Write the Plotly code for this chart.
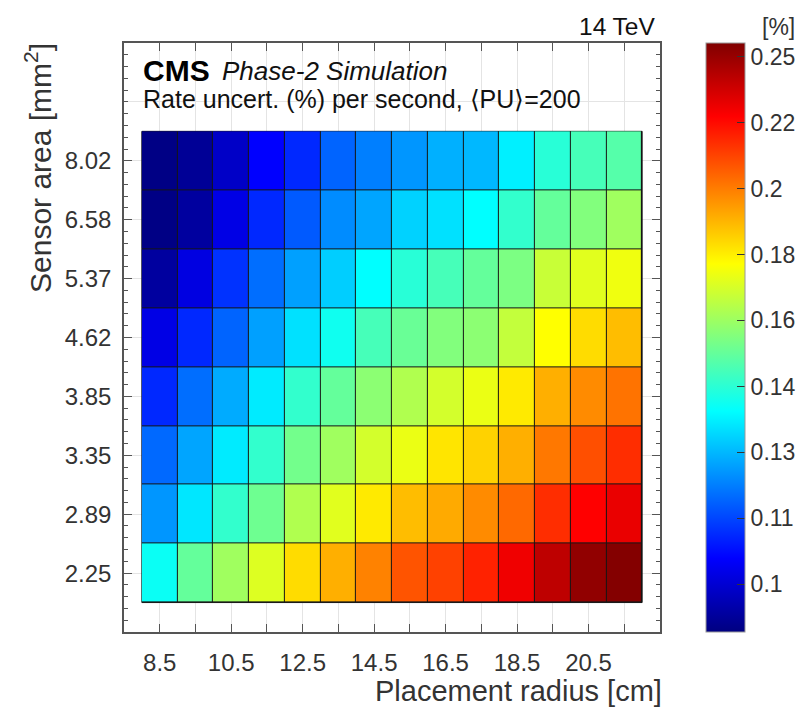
import numpy as np
import plotly.graph_objects as go

# ---------------- data ----------------
radius_cm = [8.5, 9.5, 10.5, 11.5, 12.5, 13.5, 14.5, 15.5, 16.5, 17.5, 18.5, 19.5, 20.5, 21.5]
radius_tick_text = ["8.5", "", "10.5", "", "12.5", "", "14.5", "", "16.5", "", "18.5", "", "20.5", ""]
area_labels = ["2.25", "2.89", "3.35", "3.85", "4.62", "5.37", "6.58", "8.02"]

rate_2p25 = [0.1364, 0.1493, 0.1586, 0.1685, 0.1806, 0.1890, 0.1977, 0.2070, 0.2111, 0.2176, 0.2288, 0.2406, 0.2516, 0.2550]
rate_2p89 = [0.1215, 0.1318, 0.1420, 0.1508, 0.1611, 0.1693, 0.1781, 0.1863, 0.1899, 0.1959, 0.2028, 0.2154, 0.2253, 0.2300]
rate_3p35 = [0.1162, 0.1234, 0.1323, 0.1420, 0.1516, 0.1586, 0.1668, 0.1709, 0.1790, 0.1825, 0.1890, 0.1997, 0.2081, 0.2154]
rate_3p85 = [0.1088, 0.1168, 0.1241, 0.1323, 0.1420, 0.1493, 0.1554, 0.1611, 0.1668, 0.1709, 0.1781, 0.1890, 0.1959, 0.2007]
rate_4p62 = [0.1019, 0.1088, 0.1156, 0.1228, 0.1311, 0.1371, 0.1448, 0.1501, 0.1538, 0.1554, 0.1642, 0.1744, 0.1806, 0.1863]
rate_5p37 = [0.0949, 0.1014, 0.1099, 0.1168, 0.1228, 0.1285, 0.1351, 0.1406, 0.1448, 0.1493, 0.1530, 0.1651, 0.1693, 0.1718]
rate_6p58 = [0.0925, 0.0949, 0.1019, 0.1088, 0.1144, 0.1203, 0.1234, 0.1291, 0.1311, 0.1351, 0.1420, 0.1493, 0.1538, 0.1586]
rate_8p02 = [0.0925, 0.0941, 0.0988, 0.1046, 0.1088, 0.1156, 0.1188, 0.1215, 0.1247, 0.1258, 0.1330, 0.1406, 0.1448, 0.1470]

cbar_tick_vals = [0.1, 0.1121, 0.1257, 0.1409, 0.1581, 0.1772, 0.1988, 0.2229, 0.25]
cbar_tick_text = ["0.1", "0.11", "0.13", "0.14", "0.16", "0.18", "0.2", "0.22", "0.25"]
color_min, color_max = 0.092, 0.256

# ---------------- figure ----------------
rows = [rate_2p25, rate_2p89, rate_3p35, rate_3p85, rate_4p62, rate_5p37, rate_6p58, rate_8p02]
z_log = np.log10(np.array(rows))
y_idx = list(range(len(area_labels)))

jet = [[0.0, "rgb(0,0,128)"], [0.125, "rgb(0,0,255)"], [0.375, "rgb(0,255,255)"],
       [0.625, "rgb(255,255,0)"], [0.875, "rgb(255,0,0)"], [1.0, "rgb(128,0,0)"]]

FONT = "Liberation Sans, Arial, Helvetica, sans-serif"
TXT = "#333333"
AX = "#555555"

# page body adds an 8px margin: figure is shrunk and all positions shifted by it
OFF = 8
FIG_W, FIG_H = 812 - 2 * OFF, 717 - 2 * OFF
L, T, R, B = 124 - OFF, 43 - OFF, 660 - OFF, 632 - OFF
W = float(R - L)
H = float(B - T)

def py(px):          # reference-page pixel -> paper y
    return (B - (px - OFF)) / H
def pxx(px):         # reference-page pixel -> paper x
    return ((px - OFF) - L) / W

fig = go.Figure()
fig.add_trace(go.Heatmap(
    x=radius_cm, y=y_idx, z=z_log,
    zmin=np.log10(color_min), zmax=np.log10(color_max),
    colorscale=jet, xgap=1, ygap=1,
    colorbar=dict(
        x=pxx(706), xanchor="left", xpad=0, ypad=0,
        y=0.5, yanchor="middle", len=1, lenmode="fraction",
        thickness=39, outlinewidth=1, outlinecolor="#999999",
        ticks="inside", ticklen=8, tickcolor="#333333", tickwidth=1,
        tickvals=list(np.log10(cbar_tick_vals)), ticktext=cbar_tick_text,
        tickfont=dict(family=FONT, size=23, color=TXT),
    ),
    hoverinfo="skip",
))

# dark cell borders shown through the gaps
fig.add_shape(type="rect", xref="x", yref="y",
              x0=radius_cm[0] - 0.5, x1=radius_cm[-1] + 0.5,
              y0=y_idx[0] - 0.5, y1=y_idx[-1] + 0.5,
              fillcolor="#151515", line=dict(color="#151515", width=1), layer="between")

y_minor = list(np.round(np.arange(-1, 9.001, 0.2), 3))

fig.update_xaxes(
    range=[radius_cm[0] - 1, radius_cm[-1] + 1],
    tickvals=radius_cm, ticktext=radius_tick_text,
    ticks="inside", ticklen=8, tickcolor=AX, tickwidth=1,
    showline=True, linecolor=AX, linewidth=1.5, mirror="ticks",
    showgrid=True, gridcolor="#e4e4e4", gridwidth=1, zeroline=False,
    tickfont=dict(family=FONT, size=24, color=TXT),
    ticklabelstandoff=8,
)
fig.update_yaxes(
    range=[-1, 9],
    tickvals=list(range(9)), ticktext=area_labels + [""],
    ticks="inside", ticklen=8, tickcolor=AX, tickwidth=1,
    minor=dict(tickvals=y_minor, ticks="inside", ticklen=4, tickcolor=AX, showgrid=False),
    showline=True, linecolor=AX, linewidth=1.5, mirror="ticks",
    showgrid=True, gridcolor="#e4e4e4", gridwidth=1, zeroline=False,
    tickfont=dict(family=FONT, size=24, color=TXT),
    ticklabelstandoff=6,
)

annos = [
    dict(text="14 TeV", x=pxx(657), y=py(26.5), xanchor="right", yanchor="middle",
         font=dict(family=FONT, size=24.5, color="#111111")),
    dict(text="<b>CMS</b>", x=pxx(141), y=py(70.5), xanchor="left", yanchor="middle",
         font=dict(family=FONT, size=30, color="#000000")),
    dict(text="<i>Phase-2 Simulation</i>", x=pxx(220), y=py(70.5), xanchor="left", yanchor="middle",
         font=dict(family=FONT, size=26, color="#111111")),
    dict(text="Rate uncert. (%) per second, \u27e8PU\u27e9=200", x=pxx(141), y=py(99.5),
         xanchor="left", yanchor="middle",
         font=dict(family=FONT, size=25, color="#111111")),
    dict(text="Placement radius [cm]", x=pxx(664), y=py(691), xanchor="right", yanchor="middle",
         font=dict(family=FONT, size=29, color=TXT)),
    dict(text="Sensor area [mm<sup>2</sup>]", x=pxx(38), y=py(41), xanchor="center", yanchor="top",
         textangle=-90, font=dict(family=FONT, size=30, color=TXT)),
    dict(text="[%]", x=pxx(797), y=py(27), xanchor="right", yanchor="middle",
         font=dict(family=FONT, size=23, color=TXT)),
]
for a in annos:
    a.update(xref="paper", yref="paper", showarrow=False)
fig.update_layout(annotations=annos)

fig.update_layout(
    width=FIG_W, height=FIG_H,
    margin=dict(l=L, r=FIG_W - R, t=T, b=FIG_H - B, autoexpand=False),
    paper_bgcolor="white", plot_bgcolor="white",
    showlegend=False,
)

fig.write_html("out.html")
